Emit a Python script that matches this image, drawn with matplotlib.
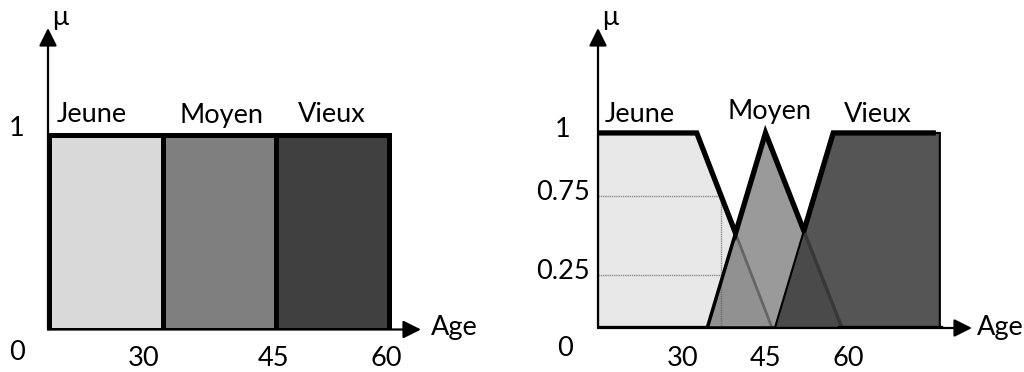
import matplotlib
matplotlib.use("Agg")
import matplotlib.pyplot as plt
import numpy as np

plt.rcParams["font.family"] = ["Lato", "DejaVu Sans"]

W, H = 1024, 372

# left chart: crisp sets (one unit per class)
crisp_labels = ["Jeune", "Moyen", "Vieux"]
crisp_start = [0, 1, 2]
crisp_width = [1, 1, 1]
crisp_colors = ["#d9d9d9", "#7f7f7f", "#404040"]
crisp_ticks = ["30", "45", "60"]

# right chart: fuzzy sets, ages
jeune_x = [14.5, 14.5, 32.5, 46.2]
jeune_mu = [0, 1, 1, 0]
moyen_x = [34.4, 45.0, 58.9]
moyen_mu = [0, 1, 0]
vieux_x = [46.7, 57.3, 76.7, 76.7]
vieux_mu = [0, 1, 1, 0]
fuzzy_ticks = [30, 45, 60]
mu_levels = [0.677, 0.272]
mu_level_labels = ["0.75", "0.25"]


def fx(x):
    return x / W


def fy(y):
    return 1 - y / H


fig = plt.figure(figsize=(W / 100, H / 100), dpi=100)

FS = 19.5


def axis_arrows(ax):
    kw = dict(arrowstyle="-|>,head_length=0.4,head_width=0.2", mutation_scale=27,
              lw=1.6, color="black", shrinkA=0, shrinkB=0)
    ax.annotate("", xy=(0, 1), xytext=(0, 0), xycoords="axes fraction",
                arrowprops=kw, annotation_clip=False, zorder=1)
    ax.annotate("", xy=(1, 0), xytext=(0, 0), xycoords="axes fraction",
                arrowprops=kw, annotation_clip=False, zorder=1)
    ax.axis("off")


# ---------- left ----------
ax1 = fig.add_axes([fx(48), fy(329.5), (421 - 48) / W, (329.5 - 28) / H])
ax1.set_xlim(-0.013, 3.279)
ax1.set_ylim(0, 1.554)
axis_arrows(ax1)
ax1.bar(crisp_start, [1, 1, 1], width=crisp_width, align="edge",
        color=crisp_colors, edgecolor="black", linewidth=3.6, zorder=3)

for x, y, s in [(92, 115, "Jeune"), (222, 115, "Moyen"), (332, 115, "Vieux")]:
    fig.text(fx(x), fy(y), s, ha="center", va="center", fontsize=FS)
for x, s in zip([144, 273, 386], crisp_ticks):
    fig.text(fx(x), fy(358), s, ha="center", va="center", fontsize=FS)
fig.text(fx(17), fy(128), "1", ha="center", va="center", fontsize=FS)
fig.text(fx(17), fy(353), "0", ha="center", va="center", fontsize=FS)
fig.text(fx(52), fy(17), "μ", ha="left", va="center", fontsize=FS)
fig.text(fx(431), fy(328), "Age", ha="left", va="center", fontsize=FS)

# ---------- right ----------
ax2 = fig.add_axes([fx(598), fy(328), (972 - 598) / W, 300 / H])
ax2.set_xlim(14.545, 82.545)
ax2.set_ylim(0, 1.538)
axis_arrows(ax2)

ax2.fill(jeune_x, jeune_mu, facecolor="#e8e8e8", edgecolor="#7a7a7a",
         linewidth=2, zorder=2)

# dotted guides
x_cut = np.interp(mu_levels[0], jeune_mu[2:][::-1], jeune_x[2:][::-1])
for lv in mu_levels:
    ax2.plot([jeune_x[0], x_cut], [lv, lv], color="#8a8a8a", lw=1,
             ls=(0, (1, 0.6)), zorder=2.5)
ax2.plot([x_cut, x_cut], [0, mu_levels[0]], color="#8a8a8a", lw=1,
         ls=(0, (1, 0.6)), zorder=2.5)

ax2.fill(moyen_x, moyen_mu, facecolor=(87 / 255, 87 / 255, 87 / 255, 0.6),
         edgecolor="black", linewidth=2.5, zorder=3)
ax2.fill(vieux_x, vieux_mu, facecolor=(64 / 255, 64 / 255, 64 / 255, 0.89),
         edgecolor="black", linewidth=1.5, zorder=4)

# outline of the union
xs = np.union1d(np.linspace(14.56, 75.5, 3000), jeune_x + moyen_x + vieux_x)
xs = xs[(xs > 14.55) & (xs <= 75.5)]
env = np.maximum.reduce([
    np.interp(xs, jeune_x[1:], jeune_mu[1:]),
    np.interp(xs, moyen_x, moyen_mu, left=0, right=0),
    np.interp(xs, vieux_x[:3], vieux_mu[:3], left=0, right=1),
])
ax2.plot(xs, env, color="black", lw=3.8, solid_joinstyle="miter", zorder=5)
ax2.plot([jeune_x[0], moyen_x[0] - 0.5], [0, 0], color="black", lw=3.8, zorder=5)
ax2.plot([moyen_x[-1] - 0.4, vieux_x[-1]], [0, 0], color="black", lw=3.8, zorder=5)
ax2.plot([jeune_x[0], jeune_x[0]], [0, 1], color="black", lw=1.6, zorder=5)

for x, y, s in [(640, 115, "Jeune"), (769, 112, "Moyen"), (878, 115, "Vieux")]:
    fig.text(fx(x), fy(y), s, ha="center", va="center", fontsize=FS)
for t in fuzzy_ticks:
    ax2.annotate(str(t), xy=(t, 0), xytext=(0, -30), textcoords="offset pixels",
                 ha="center", va="center", fontsize=FS, annotation_clip=False)
ax2.annotate("1", xy=(jeune_x[0], 1), xytext=(-35, 3), textcoords="offset pixels",
             ha="center", va="center", fontsize=FS, annotation_clip=False)
for lv, s in zip(mu_levels, mu_level_labels):
    ax2.annotate(s, xy=(jeune_x[0], lv), xytext=(-35, 3), textcoords="offset pixels",
                 ha="center", va="center", fontsize=FS, annotation_clip=False)
fig.text(fx(565), fy(348), "0", ha="center", va="center", fontsize=FS)
fig.text(fx(602), fy(17), "μ", ha="left", va="center", fontsize=FS)
fig.text(fx(977), fy(328), "Age", ha="left", va="center", fontsize=FS)

fig.savefig("out.png", dpi=100)
